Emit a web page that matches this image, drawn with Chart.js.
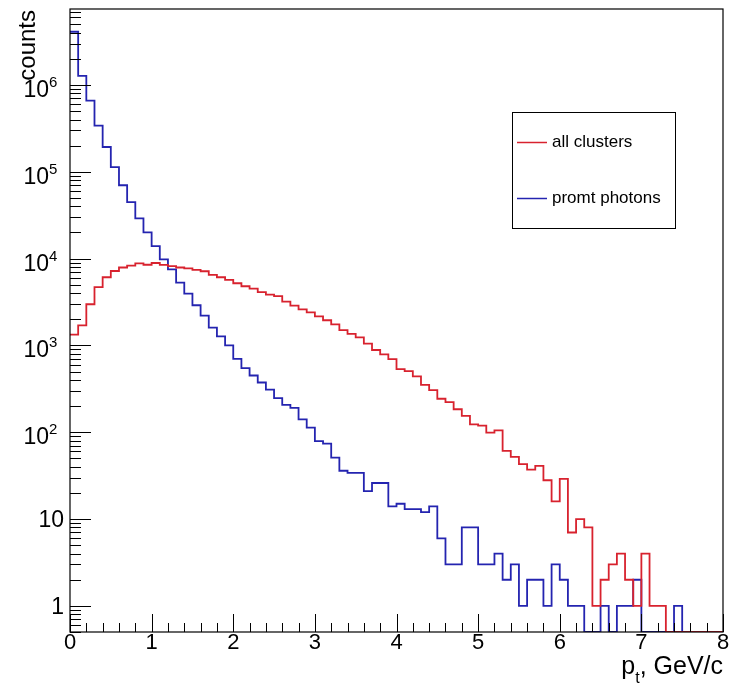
<!DOCTYPE html>
<html>
<head>
<meta charset="utf-8">
<script src="https://cdn.jsdelivr.net/npm/chart.js@4.4.1/dist/chart.umd.min.js"></script>
<style>
body { margin: 0; background: #fff; }
</style>
</head>
<body>
<canvas id="myChart" width="732" height="691"></canvas>
<script>
var ctx = document.getElementById('myChart').getContext('2d');

// p_t spectra, 80 bins of 0.1 GeV/c
var binWidth = 0.1;
var xMin = 0, xMax = 8;
var yMin = 0.5, yMax = 7.5e6;

var allClusters = [
  1330, 1700, 2980, 4700, 6100, 7200, 7900, 8300, 8800, 8500,
  8900, 8450, 8200, 7900, 7700, 7400, 7150, 6500, 6100, 5700,
  5200, 4800, 4500, 4100, 3850, 3700, 3200, 2870, 2600, 2400,
  2160, 1950, 1750, 1500, 1360, 1240, 1050, 885, 787, 695,
  533, 506, 440, 352, 305, 243, 222, 184, 154, 123,
  119, 99, 105, 61, 52, 43, 37, 41, 28, 16,
  29, 7, 10, 8, 1, 2, 3, 4, 2, 1,
  4, 1, 1, 0, 0, 0, 0, 0, 0, 0
];

var promtPhotons = [
  4100000, 1270000, 660000, 340000, 193000, 113000, 70000, 44700, 29000, 20000,
  13900, 9800, 7500, 5300, 3950, 2900, 2200, 1600, 1270, 1000,
  700, 547, 450, 374, 310, 247, 207, 191, 141, 113,
  79, 74, 51, 36, 34, 34, 21, 26, 26, 14,
  15, 13, 13, 12, 14, 6, 3, 3, 8, 8,
  3, 3, 4, 2, 3, 1, 2, 2, 1, 3,
  2, 1, 1, 0, 0, 1, 0, 1, 1, 2,
  0, 0, 0, 0, 1, 0, 0, 0, 0, 0
];

var seriesNames = ["all clusters", "promt photons"];
var seriesColors = ["#d8222e", "#2424b0"];

var xTicks = [0, 1, 2, 3, 4, 5, 6, 7, 8];
var yTicks = [1, 10, 100, 1000, 10000, 100000, 1000000];
var yTickBase = ["1", "10", "10", "10", "10", "10", "10"];
var yTickExp = ["", "", "2", "3", "4", "5", "6"];

var FONT = '"Liberation Sans", Arial, Helvetica, sans-serif';

// one point per bin low edge, plus the closing edge; empty bins sit on the frame floor
function histPoints(counts) {
  var pts = counts.map(function (c, i) {
    return { x: i * binWidth, y: c > 0 ? c : yMin };
  });
  pts.push({ x: counts.length * binWidth, y: pts[pts.length - 1].y });
  return pts;
}

// frame, inward ticks, labels and legend drawn the way ROOT does it
var rootFrame = {
  id: 'rootFrame',
  afterDatasetsDraw: function (chart) {
    var c = chart.ctx;
    var a = chart.chartArea;
    var xs = chart.scales.x, ys = chart.scales.y;
    c.save();
    c.strokeStyle = '#000';
    c.fillStyle = '#000';
    c.lineWidth = 1.2;
    c.strokeRect(a.left, a.top, a.right - a.left, a.bottom - a.top);

    c.lineWidth = 1;
    c.beginPath();
    // x ticks
    for (var t = xMin; t <= xMax + 1e-9; t += 0.2) {
      var px = Math.round(xs.getPixelForValue(t)) + 0.5;
      var major = Math.abs(t - Math.round(t)) < 1e-6;
      c.moveTo(px, a.bottom);
      c.lineTo(px, a.bottom - (major ? 18 : 9));
    }
    // y ticks
    for (var d = -1; d <= 6; d++) {
      for (var m = 1; m <= 9; m++) {
        var v = m * Math.pow(10, d);
        if (v < yMin || v > yMax) continue;
        var py = Math.round(ys.getPixelForValue(v)) + 0.5;
        c.moveTo(a.left, py);
        c.lineTo(a.left + (m === 1 ? 21 : 11), py);
      }
    }
    c.stroke();

    // x tick labels
    c.font = '22px ' + FONT;
    c.textAlign = 'center';
    c.textBaseline = 'alphabetic';
    xTicks.forEach(function (t) {
      c.fillText(String(t), xs.getPixelForValue(t), a.bottom + 17);
    });

    // y tick labels
    yTicks.forEach(function (v, i) {
      var py = ys.getPixelForValue(v);
      if (yTickExp[i] === '') {
        c.font = '23px ' + FONT;
        c.textAlign = 'right';
        c.fillText(yTickBase[i], 64, py + 8);
      } else {
        c.font = '23px ' + FONT;
        c.textAlign = 'right';
        c.fillText(yTickBase[i], 49, py + 12);
        c.font = '15px ' + FONT;
        c.textAlign = 'left';
        c.fillText(yTickExp[i], 49, py + 2);
      }
    });

    // axis titles
    c.save();
    c.font = '24px ' + FONT;
    c.translate(35, a.top + 1);
    c.rotate(-Math.PI / 2);
    c.textAlign = 'right';
    c.fillText('counts', 0, 0);
    c.restore();

    c.textAlign = 'left';
    c.font = '25px ' + FONT;
    var tail = ', GeV/c';
    var wp = c.measureText('p').width;
    var wTail = c.measureText(tail).width;
    c.font = '16px ' + FONT;
    var wt = c.measureText('t').width;
    var x0 = a.right - wTail - wt - wp;
    var base = 674;
    c.font = '25px ' + FONT;
    c.fillText('p', x0, base);
    c.fillText(tail, x0 + wp + wt, base);
    c.font = '16px ' + FONT;
    c.fillText('t', x0 + wp, base + 9);

    // legend box
    c.fillStyle = '#fff';
    c.fillRect(512.5, 112.5, 163, 116);
    c.strokeStyle = '#000';
    c.lineWidth = 1;
    c.strokeRect(512.5, 112.5, 163, 116);
    var rows = [142, 198];
    c.font = '17px ' + FONT;
    c.textBaseline = 'middle';
    chart.data.datasets.forEach(function (ds, i) {
      c.strokeStyle = ds.borderColor;
      c.lineWidth = 1.5;
      c.beginPath();
      c.moveTo(517, rows[i] + 0.5);
      c.lineTo(547, rows[i] + 0.5);
      c.stroke();
      c.fillStyle = '#000';
      c.fillText(ds.label, 552, rows[i]);
    });
    c.restore();
  }
};

var myChart = new Chart(ctx, {
  type: 'line',
  data: {
    datasets: [
      {
        label: seriesNames[0],
        data: histPoints(allClusters),
        borderColor: seriesColors[0],
        borderWidth: 1.8,
        stepped: true,
        pointRadius: 0,
        fill: false
      },
      {
        label: seriesNames[1],
        data: histPoints(promtPhotons),
        borderColor: seriesColors[1],
        borderWidth: 1.8,
        stepped: true,
        pointRadius: 0,
        fill: false
      }
    ]
  },
  options: {
    responsive: false,
    animation: false,
    devicePixelRatio: 1,
    layout: { padding: { left: 70, top: 9, right: 9, bottom: 59 } },
    scales: {
      x: { type: 'linear', min: xMin, max: xMax, display: false },
      y: { type: 'logarithmic', min: yMin, max: yMax, display: false }
    },
    plugins: {
      legend: { display: false },
      tooltip: { enabled: false }
    }
  },
  plugins: [rootFrame]
});
</script>
</body>
</html>
